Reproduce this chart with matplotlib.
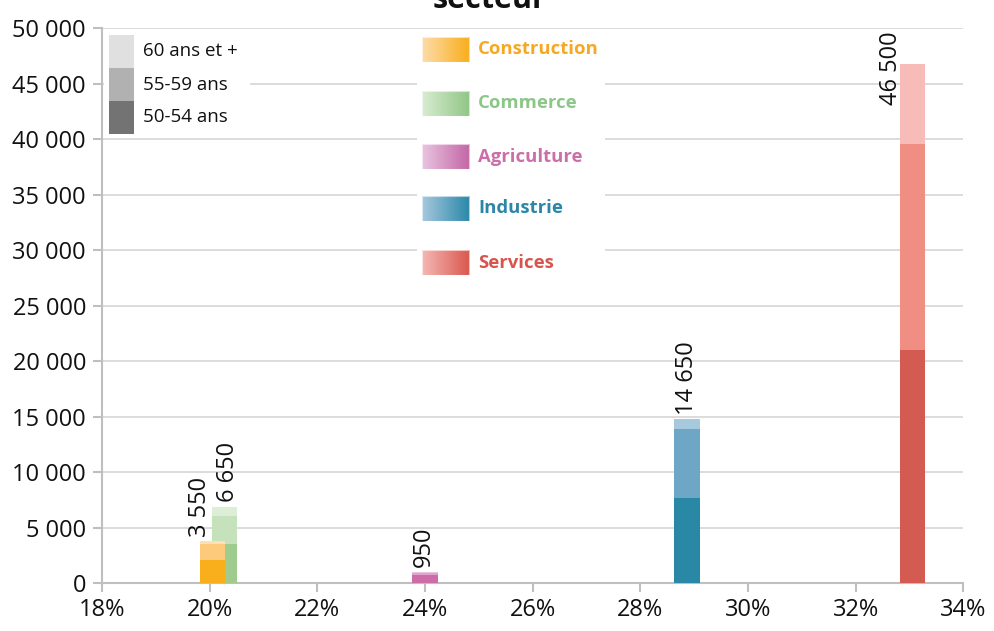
import numpy as np
import matplotlib
matplotlib.use("Agg")
import matplotlib.pyplot as plt
from matplotlib.patches import Rectangle
from matplotlib.colors import LinearSegmentedColormap
from matplotlib.ticker import FuncFormatter

# ---- data ----
sectors = ['Construction', 'Commerce', 'Agriculture', 'Industrie', 'Services']
share_pct = [20.05, 20.27, 24.0, 28.87, 33.05]
v_50_54 = [2120, 3580, 750, 7680, 21000]
v_55_59 = [1450, 2480, 220, 6220, 18600]
v_60p = [210, 850, 80, 890, 7200]
total_labels = [3550, 6650, 950, 14650, 46500]
age_labels = ['60 ans et +', '55-59 ans', '50-54 ans']
x_ticks = [18, 20, 22, 24, 26, 28, 30, 32, 34]
y_ticks = [0, 5000, 10000, 15000, 20000, 25000, 30000, 35000, 40000, 45000, 50000]

# ---- styles ----
dark = ['#F9AE1B', '#9FCB8F', '#CC6DAA', '#2A88A7', '#D45B52']
mid = ['#FDC97A', '#C5E2BC', '#E0A3CC', '#6EA7C6', '#F08E84']
light = ['#FDE0B5', '#DDEED7', '#EBC3DF', '#A6C9DE', '#F7BCB7']
text_col = ['#F7A823', '#8CC788', '#CC6FA9', '#2C87A7', '#D8554E']
grad_light = ['#FDDCAA', '#D8ECD2', '#E8C4E0', '#A5C8DE', '#F5B8B3']
grad_dark = ['#F9AE1B', '#90C685', '#C466A6', '#2A88A8', '#D9574F']
zorders = [4, 3, 3, 3, 3]
label_off = [(-9, 3), (3, 3), (-1, 3), (0, 3), (-15, -2)]
bar_w = 0.47

plt.rcParams['font.family'] = ['Open Sans', 'DejaVu Sans']

fig = plt.figure(figsize=(9.94, 6.31), dpi=100)
W, H = 994, 631
ax = fig.add_axes([102 / W, 1 - 583.3 / H, (963.3 - 102) / W, (583.3 - 28.3) / H])

for i in range(len(sectors)):
    x = share_pct[i]
    b0 = v_50_54[i]
    b1 = b0 + v_55_59[i]
    ax.bar(x, v_50_54[i], width=bar_w, color=dark[i], zorder=zorders[i], linewidth=0)
    ax.bar(x, v_55_59[i], bottom=b0, width=bar_w, color=mid[i], zorder=zorders[i], linewidth=0)
    ax.bar(x, v_60p[i], bottom=b1, width=bar_w, color=light[i], zorder=zorders[i], linewidth=0)
    top = b1 + v_60p[i]
    lbl = f"{total_labels[i]:,}".replace(',', ' ')
    if i == len(sectors) - 1:
        ax.annotate(lbl, xy=(x, 50000), xytext=label_off[i], textcoords='offset points',
                    rotation=90, ha='center', va='top', fontsize=17, color='#111111', zorder=6)
    else:
        ax.annotate(lbl, xy=(x, top), xytext=label_off[i], textcoords='offset points',
                    rotation=90, ha='center', va='bottom', fontsize=17, color='#111111', zorder=6)

ax.set_xlim(18, 34)
ax.set_ylim(0, 50000)
ax.set_xticks(x_ticks)
ax.set_yticks(y_ticks)
ax.xaxis.set_major_formatter(FuncFormatter(lambda v, p: f"{int(v)}%"))
ax.yaxis.set_major_formatter(FuncFormatter(lambda v, p: f"{int(v):,}".replace(',', ' ')))
ax.yaxis.grid(True, color='#D9D9D9', linewidth=1.3, zorder=0)
ax.set_axisbelow(True)
for s in ['top', 'right']:
    ax.spines[s].set_visible(False)
for s in ['left', 'bottom']:
    ax.spines[s].set_color('#BFBFBF')
    ax.spines[s].set_linewidth(1.5)
ax.tick_params(axis='both', direction='out', length=6.5, width=1.5, color='#BFBFBF',
               labelsize=17, labelcolor='#111111')
ax.tick_params(axis='y', pad=5)
ax.tick_params(axis='x', pad=4)

# clipped title (cut off at the top, as in the reference)
fig.text(490 / W, 1 - 8 / H, 'secteur', ha='center', va='baseline', fontsize=22,
         fontweight='bold', color='#111111')

# ---- overlay for legends (pixel coordinates) ----
lax = fig.add_axes([0, 0, 1, 1])
lax.set_xlim(0, W)
lax.set_ylim(H, 0)
lax.axis('off')

# age legend
lax.add_patch(Rectangle((104, 29), 146, 106, facecolor='white', edgecolor='none', zorder=1))
age_cols = ['#E0E0E0', '#B1B1B1', '#737373']
for k in range(3):
    y0 = 35 + k * 33
    lax.add_patch(Rectangle((109, y0), 25, 33, facecolor=age_cols[k], edgecolor='none', zorder=2))
    lax.text(143, y0 + 16.5, age_labels[k], ha='left', va='center', fontsize=13.5,
             color='#111111', zorder=3)

# sector legend
lax.add_patch(Rectangle((417, 29), 188, 251, facecolor='white', edgecolor='none', zorder=1))
sw_y = [36.7, 90.7, 144, 195.7, 250]
grad = np.linspace(0, 1, 64).reshape(1, -1)
for i in range(len(sectors)):
    cmap = LinearSegmentedColormap.from_list('g%d' % i, [grad_light[i], grad_dark[i]])
    y0 = sw_y[i]
    lax.imshow(grad, cmap=cmap, extent=(421.7, 469, y0 + 25, y0), aspect='auto',
               zorder=2, interpolation='bilinear')
    lax.add_patch(Rectangle((421.7, y0), 47.3, 25, facecolor='none', edgecolor='white',
                            linewidth=0.8, alpha=0.6, zorder=3))
    lax.text(478, y0 + 12.5, sectors[i], ha='left', va='center', fontsize=13.3,
             fontweight='bold', color=text_col[i], zorder=3)
lax.set_xlim(0, W)
lax.set_ylim(H, 0)

fig.savefig('out.png', dpi=100)
